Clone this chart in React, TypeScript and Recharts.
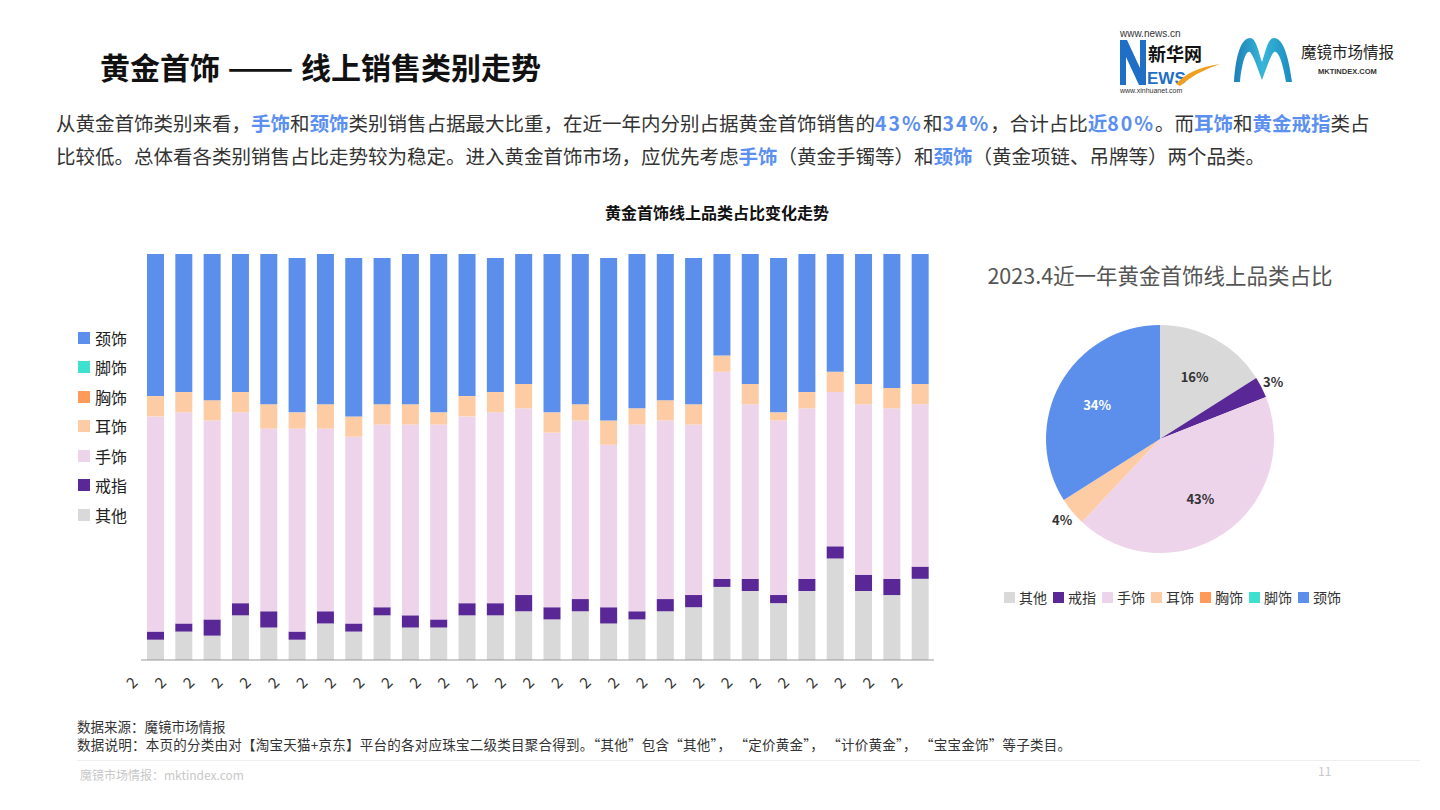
import { BarChart, Bar, XAxis, YAxis, PieChart, Pie, Cell } from "recharts";

// 类别（自下而上堆叠）
const categories = ["其他", "戒指", "手饰", "耳饰", "胸饰", "脚饰", "颈饰"];
const colors = ["#D9D9D9", "#592896", "#EED4EB", "#FDCCA5", "#FF9B5A", "#3EE0CF", "#5B8FEB"];

const months = [
  "m01", "m02", "m03", "m04", "m05", "m06", "m07", "m08", "m09", "m10", "m11", "m12", "m13", "m14",
  "m15", "m16", "m17", "m18", "m19", "m20", "m21", "m22", "m23", "m24", "m25", "m26", "m27", "m28",
];
const tickLabels = [
  "2", "2", "2", "2", "2", "2", "2", "2", "2", "2", "2", "2", "2", "2",
  "2", "2", "2", "2", "2", "2", "2", "2", "2", "2", "2", "2", "2", "2",
];

// 各月占比 (%)
const other = [5, 7, 6, 11, 8, 5, 9, 7, 11, 8, 8, 11, 11, 12, 10, 12, 9, 10, 12, 13, 18, 17, 14, 17, 25, 17, 16, 20];
const ring = [2, 2, 4, 3, 4, 2, 3, 2, 2, 3, 2, 3, 3, 4, 3, 3, 4, 2, 3, 3, 2, 3, 2, 3, 3, 4, 4, 3];
const bracelet = [53, 52, 49, 47, 45, 50, 45, 46, 45, 47, 48, 46, 47, 46, 43, 44, 40, 46, 44, 42, 51, 43, 43, 42, 38, 42, 42, 40];
const earring = [5, 5, 5, 5, 6, 4, 6, 5, 5, 5, 3, 5, 5, 6, 5, 4, 6, 4, 5, 5, 4, 5, 2, 4, 5, 5, 5, 5];
const brooch = [0, 0, 0, 0, 0, 0, 0, 0, 0, 0, 0, 0, 0, 0, 0, 0, 0, 0, 0, 0, 0, 0, 0, 0, 0, 0, 0, 0];
const anklet = [0, 0, 0, 0, 0, 0, 0, 0, 0, 0, 0, 0, 0, 0, 0, 0, 0, 0, 0, 0, 0, 0, 0, 0, 0, 0, 0, 0];
const necklace = [35, 34, 36, 34, 37, 38, 37, 39, 36, 37, 39, 35, 33, 32, 39, 37, 40, 38, 36, 36, 25, 32, 38, 34, 29, 32, 33, 32];

// 2023.4 近一年占比
const pieValues = [16, 3, 43, 4, 0, 0, 34];

const seriesValues = [other, ring, bracelet, earring, brooch, anklet, necklace];

const barData = months.map((m, i) => {
  const row: any = { month: m, label: tickLabels[i] };
  categories.forEach((c, k) => (row[c] = seriesValues[k][i]));
  return row;
});

const pieData = categories.map((c, k) => ({ name: c, value: pieValues[k] }));

const font = '"Noto Sans CJK SC", "Noto Sans", sans-serif';
const hl = { color: "#5B8FF0", fontWeight: 700 };
const hlNum = { ...hl, letterSpacing: 2 };

const RADIAN = Math.PI / 180;

function PieLabel(props: any) {
  const { cx, cy, midAngle, outerRadius, percent, index } = props;
  if (!percent) return null;
  const inside = percent >= 0.1;
  const r = inside ? outerRadius * 0.63 : outerRadius + 13;
  const x = cx + r * Math.cos(-midAngle * RADIAN);
  const y = cy + r * Math.sin(-midAngle * RADIAN);
  const fill = categories[index] === "颈饰" ? "#fff" : "#333";
  return (
    <text x={x} y={y} fill={fill} textAnchor="middle" dominantBaseline="central" fontSize={13} fontWeight={700} fontFamily={font}>
      {`${Math.round(percent * 100)}%`}
    </text>
  );
}

function MonthTick(props: any) {
  const { x, y, index } = props;
  const tx = x - 24;
  const ty = y + 14;
  return (
    <text x={tx} y={ty} textAnchor="middle" dominantBaseline="central" fontSize={15} fill="#333" fontFamily={font} transform={`rotate(-45 ${tx} ${ty})`}>
      {tickLabels[index]}
    </text>
  );
}

function Logos() {
  return (
    <svg width={300} height={80} style={{ position: "absolute", left: 1110, top: 22 }}>
      <defs>
        <linearGradient id="mgrad" x1="0" y1="0" x2="1" y2="0">
          <stop offset="0" stopColor="#1d7fb8" />
          <stop offset="0.5" stopColor="#37b6d8" />
          <stop offset="1" stopColor="#1a8cc0" />
        </linearGradient>
      </defs>
      <text x={10} y={15} fontSize={10} fill="#333" fontFamily="Arial, sans-serif">www.news.cn</text>
      <path d="M10 18 L17 18 L30 46 L30 18 L36 18 L36 63 L29 63 L16 35 L16 63 L10 63 Z" fill="#1f6fc6" />
      <text x={38} y={39} fontSize={18} fontWeight={700} fill="#111" fontFamily={font}>新华网</text>
      <text x={37} y={62} fontSize={17} fontWeight={700} fill="#1f6fc6" fontFamily="Arial, sans-serif">EWS</text>
      <path d="M66 62 Q80 46 110 42 Q86 50 70 64 Z" fill="#f0a020" />
      <text x={10} y={71} fontSize={7} fill="#333" fontFamily="Arial, sans-serif">www.xinhuanet.com</text>
      <path d="M124 60 C126 30 132 16 140 16 C146 16 148 28 152 40 C156 28 158 16 164 16 C172 16 178 30 182 60 L176 60 C172 38 168 28 164 30 C160 34 156 48 152 58 C148 48 144 34 140 30 C136 28 132 40 130 60 Z" fill="url(#mgrad)" />
      <text x={191} y={36} fontSize={15.5} fill="#222" fontFamily={font}>魔镜市场情报</text>
      <text x={208} y={52} fontSize={7.5} fontWeight={700} fill="#333" fontFamily="Arial, sans-serif">MKTINDEX.COM</text>
    </svg>
  );
}

export default function App() {
  return (
    <div style={{ position: "absolute", left: 0, top: 0, width: 1440, height: 810, background: "#fff", fontFamily: font, overflow: "hidden" }}>
      <style>{`.recharts-pie-sectors { filter: drop-shadow(1px 2px 2px rgba(0,0,0,0.35)); }`}</style>

      <div style={{ position: "absolute", left: 100, top: 44, fontSize: 30, fontWeight: 700, color: "#111", whiteSpace: "nowrap", lineHeight: "44px" }}>
        黄金首饰
        <span style={{ display: "inline-block", transform: "scaleX(1.3)", marginLeft: 15, marginRight: 15 }}>——</span>
        线上销售类别走势
      </div>
      <Logos />

      <div style={{ position: "absolute", left: 56, top: 106, fontSize: 19.5, color: "#333", lineHeight: "33px", whiteSpace: "nowrap" }}>
        <div>
          从黄金首饰类别来看，<span style={hl}>手饰</span>和<span style={hl}>颈饰</span>类别销售占据最大比重，在近一年内分别占据黄金首饰销售的
          <span style={hlNum}>43%</span>和<span style={hlNum}>34%</span>，合计占比<span style={hl}>近</span><span style={hlNum}>80%</span>。而<span style={hl}>耳饰</span>和
          <span style={hl}>黄金戒指</span>类占
        </div>
        <div>
          比较低。总体看各类别销售占比走势较为稳定。进入黄金首饰市场，应优先考虑<span style={hl}>手饰</span>（黄金手镯等）和
          <span style={hl}>颈饰</span>（黄金项链、吊牌等）两个品类。
        </div>
      </div>

      <div style={{ position: "absolute", left: 517, top: 200, width: 400, textAlign: "center", fontSize: 16, fontWeight: 700, color: "#111", lineHeight: "24px" }}>
        黄金首饰线上品类占比变化走势
      </div>

      {/* 左侧图例 */}
      <div style={{ position: "absolute", left: 78, top: 323 }}>
        {categories
          .map((c, k) => ({ c, color: colors[k] }))
          .reverse()
          .map((it) => (
            <div key={it.c} style={{ display: "flex", alignItems: "center", height: 29.5, fontSize: 16, color: "#222" }}>
              <span style={{ width: 12, height: 12, background: it.color, marginRight: 5, display: "inline-block" }} />
              {it.c}
            </div>
          ))}
      </div>

      <div style={{ position: "absolute", left: 100, top: 240 }}>
        <BarChart width={840} height={470} data={barData} margin={{ top: 14, right: 6, left: 41, bottom: 10 }}>
          <XAxis dataKey="month" height={40} tickLine={false} axisLine={{ stroke: "#999" }} tick={<MonthTick />} interval={0} />
          <YAxis hide domain={[0, 100]} />
          {categories.map((c, k) => (
            <Bar key={c} dataKey={c} stackId="a" fill={colors[k]} barSize={17} isAnimationActive={false} />
          ))}
        </BarChart>
      </div>

      <div style={{ position: "absolute", left: 960, top: 258, width: 400, textAlign: "center", fontSize: 21.5, color: "#555", lineHeight: "34px" }}>
        2023.4近一年黄金首饰线上品类占比
      </div>

      <div style={{ position: "absolute", left: 1000, top: 300 }}>
        <PieChart width={320} height={280} margin={{ top: 0, right: 0, bottom: 0, left: 0 }}>
          <Pie
            data={pieData}
            dataKey="value"
            nameKey="name"
            cx={160}
            cy={139}
            outerRadius={114}
            startAngle={90}
            endAngle={-270}
            stroke="none"
            label={PieLabel}
            labelLine={false}
            isAnimationActive={false}
          >
            {pieData.map((d, k) => (
              <Cell key={d.name} fill={colors[k]} />
            ))}
          </Pie>
        </PieChart>
      </div>

      <div style={{ position: "absolute", left: 1004, top: 587, display: "flex", fontSize: 14, color: "#333", lineHeight: "20px", whiteSpace: "nowrap" }}>
        {categories.map((c, k) => (
          <div key={c} style={{ display: "flex", alignItems: "center", marginRight: 6 }}>
            <span style={{ width: 11, height: 11, background: colors[k], marginRight: 4, display: "inline-block" }} />
            {c}
          </div>
        ))}
      </div>

      <div style={{ position: "absolute", left: 77, top: 717, fontSize: 13.5, color: "#333", lineHeight: "18px", whiteSpace: "nowrap" }}>
        <div>数据来源：魔镜市场情报</div>
        <div style={{ letterSpacing: 0.25 }}>
          数据说明：本页的分类由对【淘宝天猫+京东】平台的各对应珠宝二级类目聚合得到。“其他”包含“其他”， “定价黄金”， “计价黄金”， “宝宝金饰”等子类目。
        </div>
      </div>
      <div style={{ position: "absolute", left: 77, top: 760, width: 1343, height: 1, background: "#eee" }} />
      <div style={{ position: "absolute", left: 80, top: 766, fontSize: 12, color: "#c8c8c8", lineHeight: "18px" }}>魔镜市场情报：mktindex.com</div>
      <div style={{ position: "absolute", left: 1318, top: 762, fontSize: 12, color: "#c8c8c8", lineHeight: "18px" }}>11</div>
    </div>
  );
}
